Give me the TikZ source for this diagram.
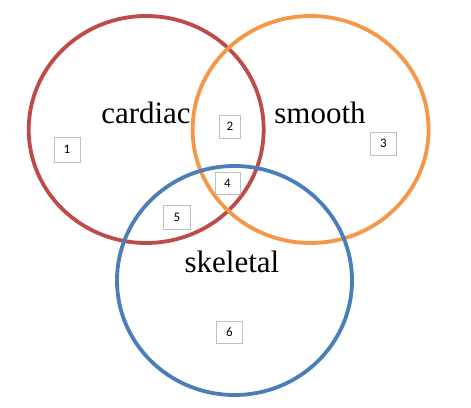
\documentclass[tikz,border=0pt]{standalone}
\usepackage{fontspec}
\setmainfont{Liberation Serif}
\newfontfamily\numfont{Carlito}
\definecolor{vred}{HTML}{BE4B48}
\definecolor{vorange}{HTML}{F79646}
\definecolor{vblue}{HTML}{4A7EBB}
\definecolor{boxgray}{HTML}{BFBFBF}
\tikzset{
  ring/.style={line width=3.8pt},
  setlabel/.style={anchor=base, inner sep=0pt, font=\fontsize{31}{31}\selectfont},
  numbox/.style={draw=boxgray, line width=0.9pt, fill=white, minimum width=25pt, minimum height=23pt, inner sep=0pt, font=\numfont\fontsize{13}{13}\selectfont}
}
\begin{document}
\begin{tikzpicture}[x=1pt,y=1pt]
\useasboundingbox (0,0) rectangle (471,407);
\fill[white] (0,0) rectangle (471,407);
\draw[ring, vred] (146.2,277.5) ellipse [x radius=117.5, y radius=113.5];
\draw[ring, vorange] (310.6,277.5) ellipse [x radius=118, y radius=113.5];
\draw[ring, vblue] (234.5,126.5) ellipse [x radius=117.5, y radius=114.5];
\node[setlabel] (cardiac) at (146,283.5) {cardiac};
\node[setlabel] (smooth) at (320,283.5) {smooth};
\node[setlabel] (skeletal) at (232,134) {skeletal};
\node[numbox, minimum width=26pt, minimum height=25pt] (n1) at (67,257.5) {1};
\node[numbox, minimum width=21pt] (n2) at (230,280.3) {2};
\node[numbox, minimum width=26pt] (n3) at (383.3,263.5) {3};
\node[numbox, minimum height=22pt] (n4) at (227.5,224) {4};
\node[numbox, minimum width=27pt, minimum height=24pt] (n5) at (177,190) {5};
\node[numbox, minimum width=26pt, minimum height=22pt] (n6) at (229.5,75) {6};
\end{tikzpicture}
\end{document}
